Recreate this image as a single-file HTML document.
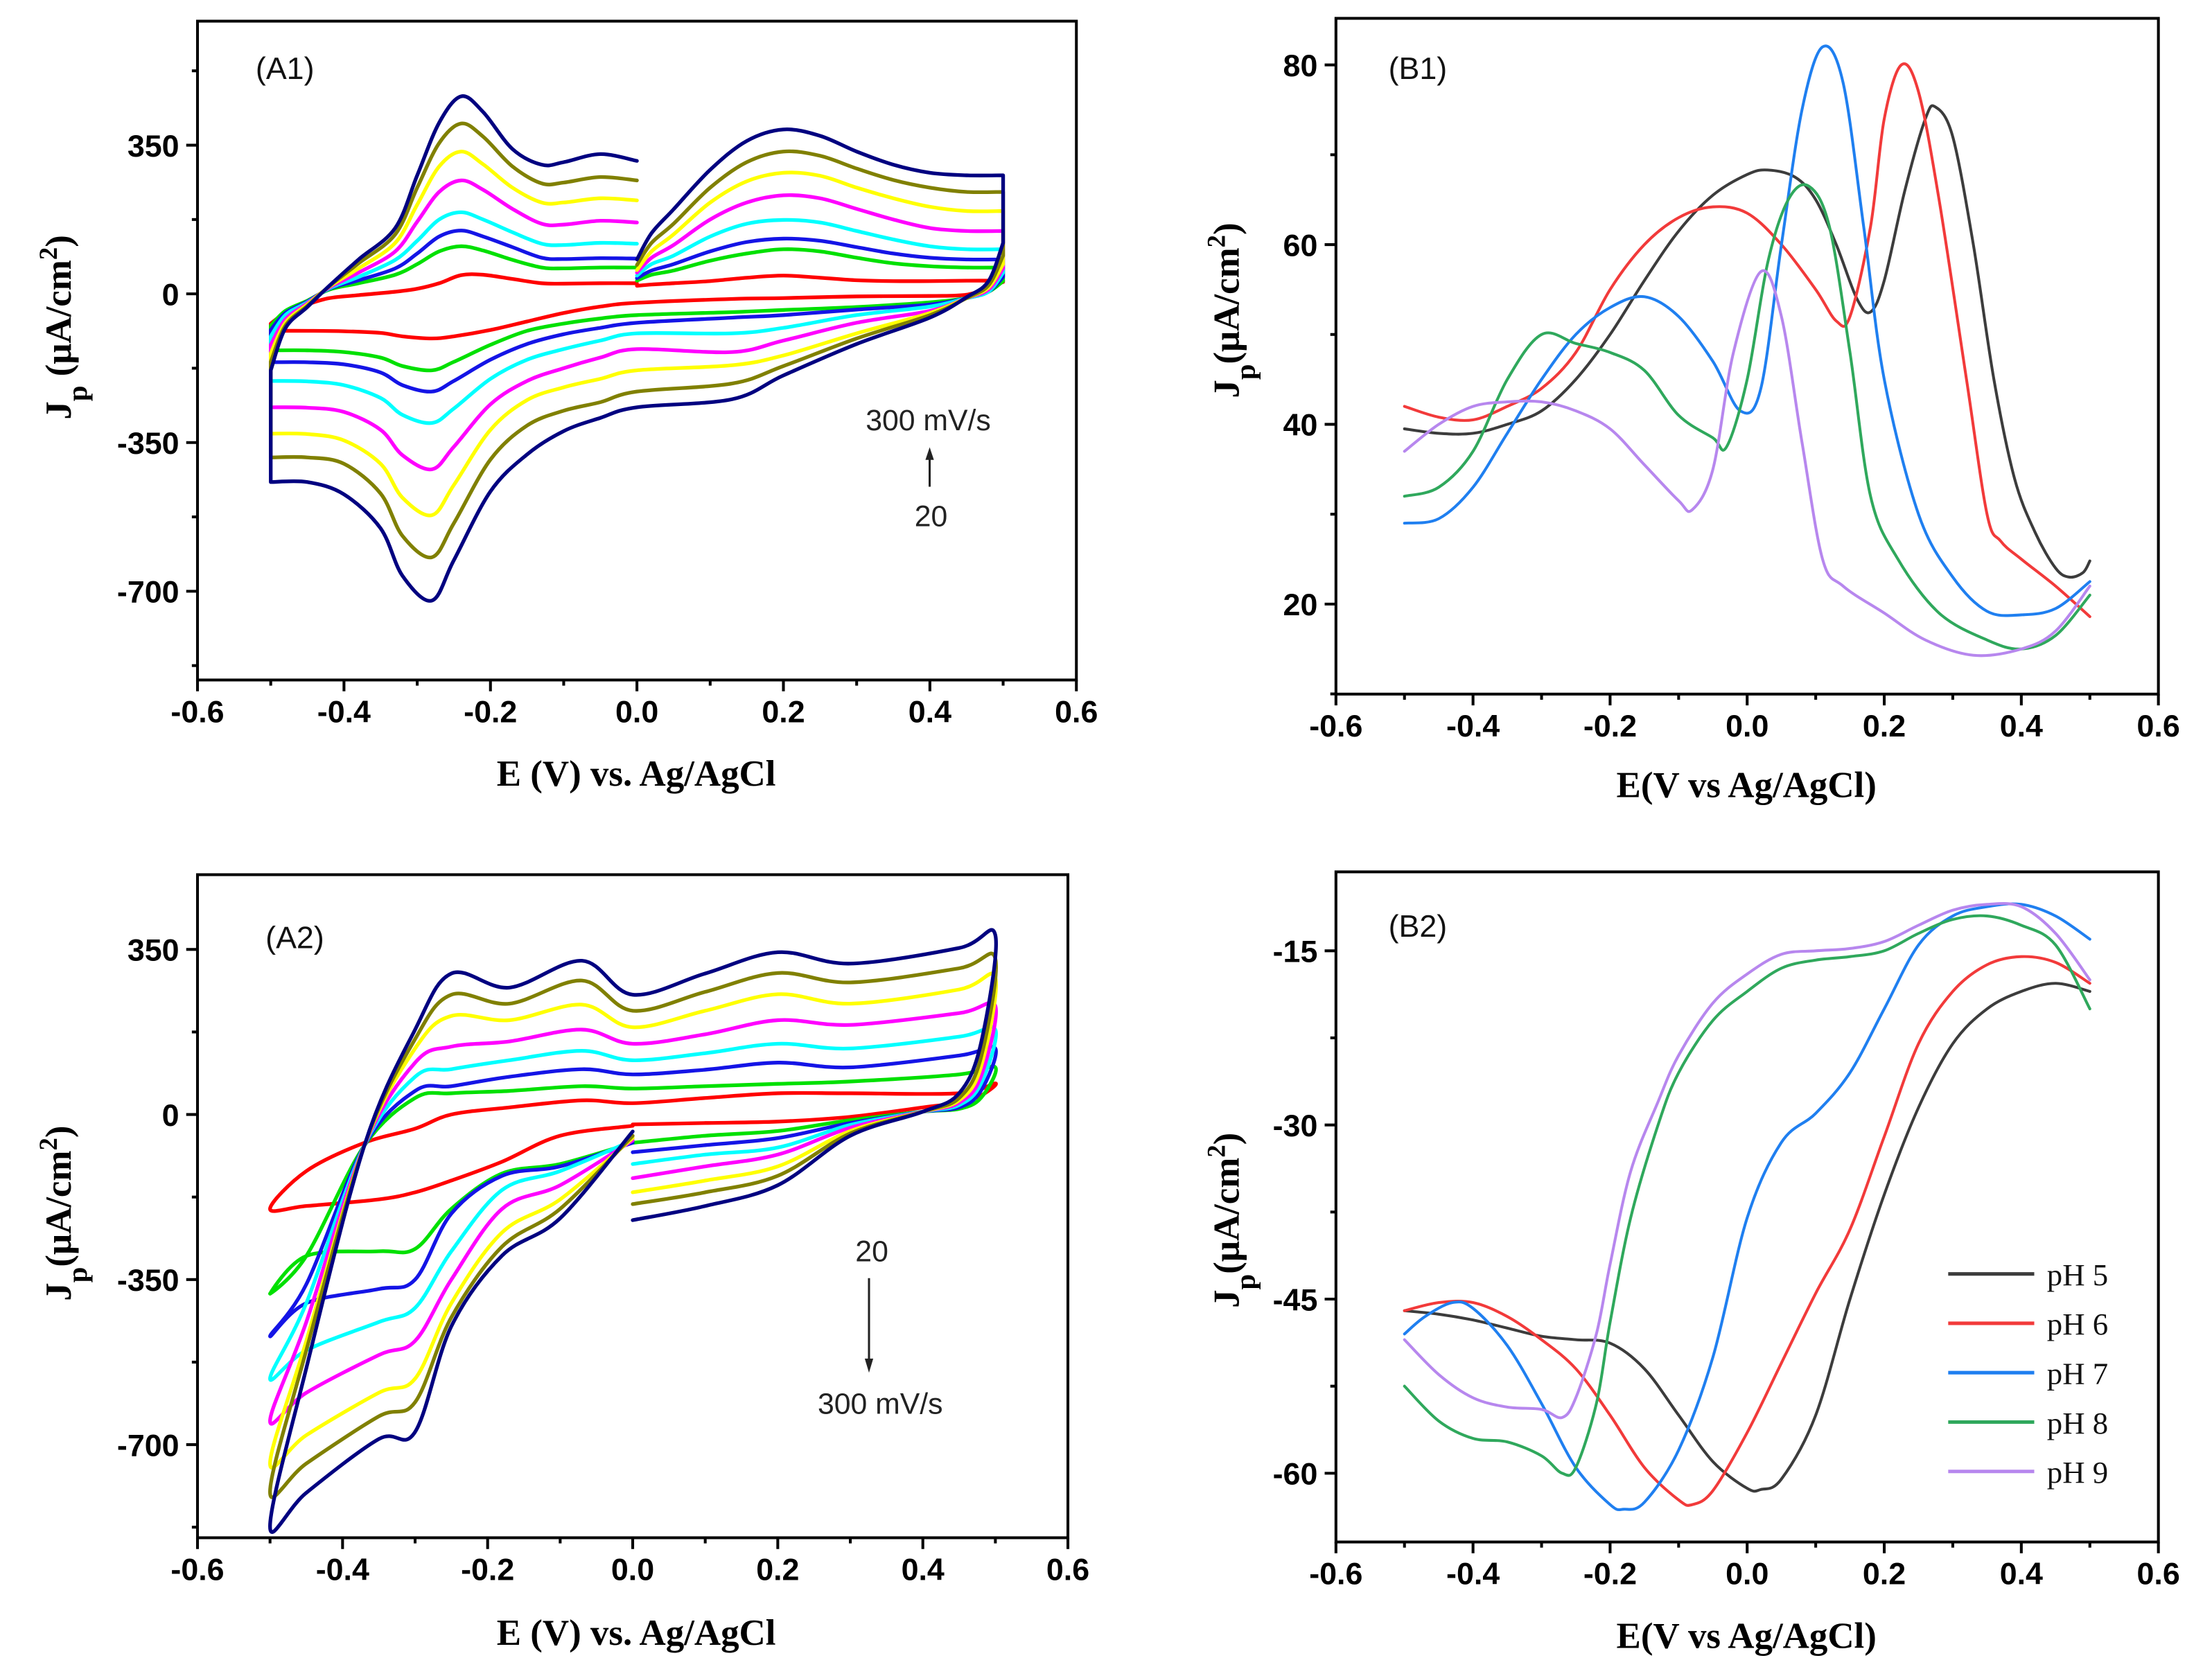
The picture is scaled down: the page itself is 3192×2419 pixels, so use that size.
<!DOCTYPE html>
<html><head><meta charset="utf-8"><style>
html,body{margin:0;padding:0;background:#fff;}
svg{display:block;}
.tk{font-family:"Liberation Sans",Arial,sans-serif;font-weight:bold;font-size:22px;fill:#000;}
.tt{font-family:"Liberation Serif","Times New Roman",serif;font-weight:bold;font-size:26px;fill:#000;}
.pl{font-family:"Liberation Sans",Arial,sans-serif;font-size:22px;fill:#111;}
.an{font-family:"Liberation Sans",Arial,sans-serif;font-size:21px;fill:#222;}
.lg{font-family:"Liberation Serif","Times New Roman",serif;font-size:22px;fill:#111;}
</style></head><body>
<svg id="fig" xmlns="http://www.w3.org/2000/svg" width="3192" height="2419" viewBox="0 0 1568 1188" preserveAspectRatio="none">
<rect x="0" y="0" width="1568" height="1188" fill="#fff"/>
</svg>
<script>
// ---------- A1 data (scan rates 20..300 mV/s) ----------
const a1E = [0,0.02,0.05,0.1,0.15,0.2,0.25,0.3,0.35,0.4,0.45,0.5,0.5,0.48,0.45,0.4,0.3,0.2,0.13,0.0,-0.05,-0.1,-0.15,-0.2,-0.25,-0.28,-0.32,-0.35,-0.4,-0.45,-0.5,-0.5,-0.48,-0.45,-0.42,-0.38,-0.33,-0.3,-0.27,-0.24,-0.21,-0.17,-0.13,-0.1,-0.05,0];
const a1Red =    [19,22,25,30,38,43,38,32,30,30,31,31,28,15,-2,-5,-6,-10,-12,-21,-30,-45,-65,-85,-100,-105,-100,-92,-88,-87,-87,-70,-45,-25,-10,-3,5,12,25,44,45,35,25,24,25,25];
const a1Green =  [31,45,55,78,95,105,100,85,72,65,62,62,30,5,-10,-20,-31,-38,-43,-50,-58,-70,-87,-120,-160,-180,-170,-150,-137,-133,-133,-75,-40,-16,10,25,45,70,100,112,102,80,62,60,62,62];
const a1Blue =   [37,55,70,100,122,130,125,110,95,85,81,81,40,5,-10,-25,-37,-50,-56,-68,-80,-95,-118,-155,-205,-230,-215,-185,-166,-161,-161,-85,-45,-18,12,32,60,95,135,149,135,110,85,82,84,83];
const a1Cyan =   [43,70,90,135,165,174,168,148,128,112,105,105,50,5,-10,-30,-50,-80,-93,-93,-110,-130,-155,-200,-270,-304,-285,-245,-215,-206,-205,-100,-50,-20,13,40,80,125,175,192,175,145,118,115,120,118];
const a1Magenta =[50,85,115,175,215,232,225,200,175,155,148,148,60,10,-10,-40,-68,-110,-137,-130,-150,-175,-205,-260,-360,-413,-380,-320,-278,-268,-267,-120,-60,-22,15,50,100,170,240,267,245,200,165,163,172,168];
const a1Yellow = [56,100,140,215,265,285,278,250,225,205,195,195,70,15,-10,-45,-93,-145,-168,-180,-200,-220,-250,-320,-450,-521,-480,-400,-345,-330,-329,-140,-68,-25,17,60,120,210,300,335,305,250,215,215,225,220];
const a1Olive =  [68,120,165,250,310,335,325,295,268,250,240,240,90,20,-10,-50,-105,-170,-211,-230,-255,-275,-310,-390,-540,-620,-570,-470,-400,-385,-385,-160,-75,-28,18,72,140,250,355,401,370,300,260,262,275,267];
const a1Navy =   [81,143,199,292,360,387,372,335,304,285,279,279,120,30,-8,-56,-118,-192,-248,-267,-292,-323,-378,-465,-627,-722,-664,-552,-472,-443,-443,-180,-81,-31,19,81,155,279,403,465,428,341,304,310,329,313];
// ---------- A2 data ----------
const a2E = [0,0.1,0.2,0.3,0.4,0.45,0.48,0.5,0.45,0.3,0.2,0.1,0,-0.07,-0.17,-0.25,-0.3,-0.37,-0.45,-0.5,-0.45,-0.35,-0.3,-0.25,-0.18,-0.1,0];
const a2Red =    [-21,-18,-15,-5,15,25,40,66,45,45,45,35,24,30,15,0,-30,-60,-120,-200,-194,-180,-165,-140,-100,-45,-24];
const a2Green =  [-60,-45,-35,-12,6,12,35,100,85,70,65,60,55,60,50,45,35,-66,-300,-380,-300,-290,-285,-200,-125,-105,-60];
const a2Blue =   [-80,-65,-50,-18,6,15,50,140,125,100,110,95,85,96,80,60,50,-66,-360,-470,-400,-370,-350,-210,-130,-110,-60];
const a2Cyan =   [-105,-85,-70,-22,6,20,65,180,165,140,150,130,115,135,115,96,80,-66,-400,-560,-500,-440,-410,-290,-160,-120,-55];
const a2Magenta =[-135,-110,-85,-28,6,25,80,230,215,190,200,170,150,180,155,144,110,-66,-440,-650,-590,-510,-480,-350,-200,-150,-55];
const a2Yellow = [-165,-140,-110,-35,6,30,100,290,265,235,255,220,185,233,200,209,140,-66,-480,-740,-680,-590,-560,-400,-250,-180,-50];
const a2Olive =  [-190,-165,-130,-40,6,35,120,330,310,280,300,260,220,284,235,254,160,-66,-500,-800,-740,-640,-610,-430,-280,-200,-45];
const a2Navy =   [-224,-194,-150,-45,6,45,150,380,353,320,344,299,254,326,269,299,180,-66,-538,-873,-802,-688,-673,-449,-299,-220,-36];
// ---------- B1 data ----------
const b1E5 = [-0.5,-0.45,-0.4,-0.35,-0.3,-0.25,-0.2,-0.15,-0.1,-0.05,0,0.03,0.07,0.1,0.13,0.16,0.18,0.2,0.23,0.26,0.275,0.3,0.33,0.36,0.39,0.42,0.45,0.47,0.49,0.5];
const b1J5 = [39.5,39,39,40,41.5,45,50,56,61.5,65.5,67.8,68.3,67.5,65,60,54,52.5,56,66,74,75.3,72,60,45,34,28,24,23,23.5,24.8];
const b1E6 = [-0.5,-0.45,-0.4,-0.35,-0.3,-0.25,-0.2,-0.15,-0.1,-0.05,0,0.05,0.1,0.13,0.15,0.18,0.2,0.225,0.25,0.28,0.32,0.35,0.37,0.4,0.45,0.5];
const b1J6 = [42,40.8,40.5,42,44,48,55,60,63,64.2,63.5,60,55,51.5,52,62,74,80,77,65,45,30,27,25,22,18.6];
const b1E7 = [-0.5,-0.45,-0.4,-0.35,-0.3,-0.25,-0.2,-0.15,-0.1,-0.05,-0.01,0.02,0.05,0.08,0.11,0.14,0.17,0.2,0.25,0.3,0.35,0.4,0.45,0.5];
const b1J7 = [29,29.5,33,39,45,50,53,54.2,52,47,41.5,44,60,75,82,78,62,45,30,23,19.2,18.8,19.5,22.5];
const b1E8 = [-0.5,-0.45,-0.4,-0.35,-0.3,-0.25,-0.2,-0.15,-0.1,-0.05,-0.03,0,0.03,0.06,0.09,0.12,0.15,0.18,0.22,0.28,0.35,0.4,0.45,0.5];
const b1J8 = [32,33,37,45,50,49,48,46,41,38.5,37.5,45,58,65,66.5,62,48,32,25,19,16,15,16.5,21];
const b1E9 = [-0.5,-0.45,-0.4,-0.35,-0.3,-0.25,-0.2,-0.15,-0.1,-0.08,-0.05,-0.02,0.02,0.05,0.08,0.11,0.14,0.2,0.26,0.33,0.4,0.45,0.5];
const b1J9 = [37,40,42,42.5,42.5,41.5,39.5,35.5,31.5,30.5,35,48,57,52,38,25,22,19,16,14.3,15,17,22];
// ---------- B2 data ----------
const b2E5 = [-0.5,-0.45,-0.4,-0.35,-0.3,-0.25,-0.2,-0.15,-0.1,-0.05,0,0.02,0.05,0.1,0.15,0.2,0.25,0.3,0.35,0.4,0.45,0.5];
const b2J5 = [-46,-46.3,-46.8,-47.5,-48.2,-48.5,-48.8,-51,-55,-59,-61.3,-61.4,-60.5,-55,-45,-36,-28.5,-23,-20,-18.5,-17.8,-18.5];
const b2E6 = [-0.5,-0.45,-0.4,-0.35,-0.3,-0.25,-0.2,-0.15,-0.1,-0.08,-0.05,0,0.05,0.1,0.15,0.2,0.25,0.3,0.35,0.4,0.45,0.5];
const b2J6 = [-46,-45.3,-45.3,-46.5,-48.5,-51,-55,-59.5,-62.3,-62.7,-61.5,-56.5,-50.5,-44.5,-39,-31,-23,-18.5,-16.2,-15.5,-16,-17.8];
const b2E7 = [-0.5,-0.47,-0.43,-0.4,-0.35,-0.3,-0.25,-0.2,-0.18,-0.15,-0.1,-0.05,0,0.05,0.1,0.15,0.2,0.25,0.3,0.35,0.4,0.45,0.5];
const b2J7 = [-48,-46.5,-45.3,-45.8,-49,-54,-59.5,-62.7,-63.1,-62.5,-58,-50,-38,-31.5,-29,-25.5,-20,-14.5,-12,-11.2,-11,-12,-14];
const b2E8 = [-0.5,-0.45,-0.4,-0.35,-0.3,-0.27,-0.25,-0.22,-0.2,-0.17,-0.13,-0.1,-0.05,0,0.05,0.1,0.15,0.2,0.25,0.3,0.35,0.4,0.45,0.5];
const b2J8 = [-52.5,-55.5,-57,-57.3,-58.5,-60,-59.5,-54,-47,-38,-30,-25.5,-21,-18.5,-16.5,-15.8,-15.5,-15,-13.5,-12.3,-12,-12.8,-14.5,-20];
const b2E9 = [-0.5,-0.45,-0.4,-0.35,-0.3,-0.27,-0.25,-0.22,-0.2,-0.17,-0.13,-0.1,-0.05,0,0.05,0.1,0.15,0.2,0.25,0.3,0.35,0.4,0.45,0.5];
const b2J9 = [-48.5,-51.5,-53.5,-54.3,-54.5,-55.2,-53.5,-48,-42,-34,-28,-24,-19.5,-17,-15.3,-15,-14.8,-14.2,-12.8,-11.5,-11,-11.2,-13.5,-17.5];
// tick labels
const xTicks = [-0.6,-0.4,-0.2,0.0,0.2,0.4,0.6];
const xTickLabels = ["-0.6","-0.4","-0.2","0.0","0.2","0.4","0.6"];
const aYTicks = [350,0,-350,-700];
const b1YTicks = [20,40,60,80];
const b2YTicks = [-15,-30,-45,-60];
const pHLabels = ["pH 5","pH 6","pH 7","pH 8","pH 9"];

const NS="http://www.w3.org/2000/svg";
const svg=document.getElementById('fig');
function mk(tag,attrs,parent){const e=document.createElementNS(NS,tag);for(const k in attrs)e.setAttribute(k,attrs[k]);(parent||svg).appendChild(e);return e;}
function panel(name,L,R,T,B,xmin,xmax,ymin,ymax){
  const g=mk('g',{});
  
  
  return {g,L,R,T,B,sx:v=>L+(v-xmin)/(xmax-xmin)*(R-L),sy:v=>B-(v-ymin)/(ymax-ymin)*(B-T)};
}
function smooth(pts){
  const vert=(a,b)=>Math.abs(a[0]-b[0])<0.01;
  let d='M'+pts[0][0].toFixed(2)+','+pts[0][1].toFixed(2);
  for(let i=0;i<pts.length-1;i++){
    const p1=pts[i],p2=pts[i+1];
    if(vert(p1,p2)){d+='L'+p2[0].toFixed(2)+','+p2[1].toFixed(2);continue;}
    let p0=pts[Math.max(0,i-1)],p3=pts[Math.min(pts.length-1,i+2)];
    if(i>0&&vert(p0,p1))p0=p1;
    if(i+2<pts.length&&vert(p2,p3))p3=p2;
    const t=1/6;
    const c1=[p1[0]+(p2[0]-p0[0])*t,p1[1]+(p2[1]-p0[1])*t];
    const c2=[p2[0]-(p3[0]-p1[0])*t,p2[1]-(p3[1]-p1[1])*t];
    d+='C'+c1[0].toFixed(2)+','+c1[1].toFixed(2)+' '+c2[0].toFixed(2)+','+c2[1].toFixed(2)+' '+p2[0].toFixed(2)+','+p2[1].toFixed(2);
  }
  return d;
}
function series(P,name,E,J,color,w){
  const pts=E.map((e,i)=>[P.sx(e),P.sy(J[i])]);
  const p=mk('path',{d:smooth(pts),fill:'none',stroke:color,'stroke-width':w,'stroke-linejoin':'round','stroke-linecap':'round'},P.g);
  
  
}
function axes(P,pname,yTicks,yMinorStep,ymin,ymax){
  const f=mk('rect',{x:P.L,y:P.T,width:P.R-P.L,height:P.B-P.T,fill:'none',stroke:'#000','stroke-width':2},P.g);
  
  
  for(let v=-0.6;v<=0.6001;v+=0.1){
    const x=P.sx(v);const major=Math.abs(Math.round(v*10))%2===0;
    mk('line',{x1:x,x2:x,y1:P.B,y2:P.B+(major?8:4),stroke:'#000','stroke-width':2},P.g);
  }
  xTicks.forEach((v,i)=>{
    const t=mk('text',{x:P.sx(v),y:P.B+30,'text-anchor':'middle',class:'tk'},P.g);
    t.textContent=xTickLabels[i];
    
    
  });
  const start=Math.ceil(ymin/yMinorStep)*yMinorStep;
  for(let v=start;v<=ymax;v+=yMinorStep){
    const y=P.sy(v);const major=yTicks.some(t=>Math.abs(t-v)<1e-6)|| (Math.abs(Math.round(v/yMinorStep))%2===0);
    mk('line',{x1:P.L-(major?8:4),x2:P.L,y1:y,y2:y,stroke:'#000','stroke-width':2},P.g);
  }
  yTicks.forEach(v=>{
    const t=mk('text',{x:P.L-13,y:P.sy(v)+8,'text-anchor':'end',class:'tk'},P.g);
    t.textContent=String(v);
    
    
  });
}
function label(P,txt,x,y,cls,name,rot){
  const t=mk('text',{x:x,y:y,class:cls,'text-anchor':'middle'},P.g);
  if(rot)t.setAttribute('transform','rotate(-90 '+x+' '+y+')');
  t.innerHTML=txt;
  
  
  return t;
}
const cvColors=['#ff0000','#00e000','#1414e6','#00ffff','#ff00ff','#ffff00','#808000','#000080'];
const cvNames=['20','50','100','150','200','250','280','300'];

// ---- A1 ----
const A1=panel('panel-a1',140,763,15,482,-0.6,0.6,-908.9,641.9);
[a1Red,a1Green,a1Blue,a1Cyan,a1Magenta,a1Yellow,a1Olive,a1Navy].forEach((J,i)=>series(A1,'a1-cv-'+cvNames[i],a1E,J,cvColors[i],2.6));
axes(A1,'a1',aYTicks,175,-908.9,641.9);
label(A1,'(A1)',202,56,'pl','a1-panel-label');
label(A1,'E (V) vs. Ag/AgCl',451,557,'tt','a1-x-axis-title');
label(A1,'J<tspan baseline-shift="sub" font-size="20">p</tspan> (μA/cm<tspan baseline-shift="super" font-size="18">2</tspan>)',50,232,'tt','a1-y-axis-title',true);
label(A1,'300 mV/s',658,305,'an','a1-annotation-max');
label(A1,'20',660,373,'an','a1-annotation-min');
mk('line',{x1:659,x2:659,y1:345,y2:323,stroke:'#222','stroke-width':1.5},A1.g);
mk('path',{d:'M656,326 L659,317 L662,326 Z',fill:'#222'},A1.g);

// ---- B1 ----
const B1=panel('panel-b1',947,1530,13,492,-0.6,0.6,9.98,85.18);
const bColors=['#3c3c3c','#f23a3a','#1f7ff0','#2fa85c','#b787ee'];
series(B1,'b1-ph5',b1E5,b1J5,bColors[0],2);
series(B1,'b1-ph6',b1E6,b1J6,bColors[1],2);
series(B1,'b1-ph7',b1E7,b1J7,bColors[2],2);
series(B1,'b1-ph8',b1E8,b1J8,bColors[3],2);
series(B1,'b1-ph9',b1E9,b1J9,bColors[4],2);
axes(B1,'b1',b1YTicks,10,9.98,85.18);
label(B1,'(B1)',1005,56,'pl','b1-panel-label');
label(B1,'E(V vs Ag/AgCl)',1238,565,'tt','b1-x-axis-title');
label(B1,'J<tspan baseline-shift="sub" font-size="20">p</tspan>(μA/cm<tspan baseline-shift="super" font-size="18">2</tspan>)',878,220,'tt','b1-y-axis-title',true);

// ---- A2 ----
const A2=panel('panel-a2',140,757,620,1090,-0.6,0.6,-897.4,508.5);
[a2Red,a2Green,a2Blue,a2Cyan,a2Magenta,a2Yellow,a2Olive,a2Navy].forEach((J,i)=>series(A2,'a2-cv-'+cvNames[i],a2E,J,cvColors[i],2.6));
axes(A2,'a2',aYTicks,175,-897.4,508.5);
label(A2,'(A2)',209,672,'pl','a2-panel-label');
label(A2,'E (V) vs. Ag/AgCl',451,1166,'tt','a2-x-axis-title');
label(A2,'J<tspan baseline-shift="sub" font-size="20">p</tspan>(μA/cm<tspan baseline-shift="super" font-size="18">2</tspan>)',50,860,'tt','a2-y-axis-title',true);
label(A2,'20',618,894,'an','a2-annotation-min');
label(A2,'300 mV/s',624,1002,'an','a2-annotation-max');
mk('line',{x1:616,x2:616,y1:906,y2:966,stroke:'#222','stroke-width':1.5},A2.g);
mk('path',{d:'M613,963 L616,973 L619,963 Z',fill:'#222'},A2.g);

// ---- B2 ----
const B2=panel('panel-b2',947,1530,618,1093,-0.6,0.6,-65.92,-8.2);
series(B2,'b2-ph5',b2E5,b2J5,bColors[0],2);
series(B2,'b2-ph6',b2E6,b2J6,bColors[1],2);
series(B2,'b2-ph7',b2E7,b2J7,bColors[2],2);
series(B2,'b2-ph8',b2E8,b2J8,bColors[3],2);
series(B2,'b2-ph9',b2E9,b2J9,bColors[4],2);
axes(B2,'b2',b2YTicks,7.5,-65.92,-8.2);
label(B2,'(B2)',1005,664,'pl','b2-panel-label');
label(B2,'E(V vs Ag/AgCl)',1238,1168,'tt','b2-x-axis-title');
label(B2,'J<tspan baseline-shift="sub" font-size="20">p</tspan>(μA/cm<tspan baseline-shift="super" font-size="18">2</tspan>)',878,865,'tt','b2-y-axis-title',true);
const lg=mk('g',{},B2.g);


pHLabels.forEach((s,i)=>{
  const y=903+i*35;
  const ln=mk('line',{x1:1381,x2:1442,y1:y,y2:y,stroke:bColors[i],'stroke-width':2.5},lg);
  
  
  const t=mk('text',{x:1451,y:y+8,class:'lg'},lg);
  t.textContent=s;
  
  
});
</script>
</body></html>
